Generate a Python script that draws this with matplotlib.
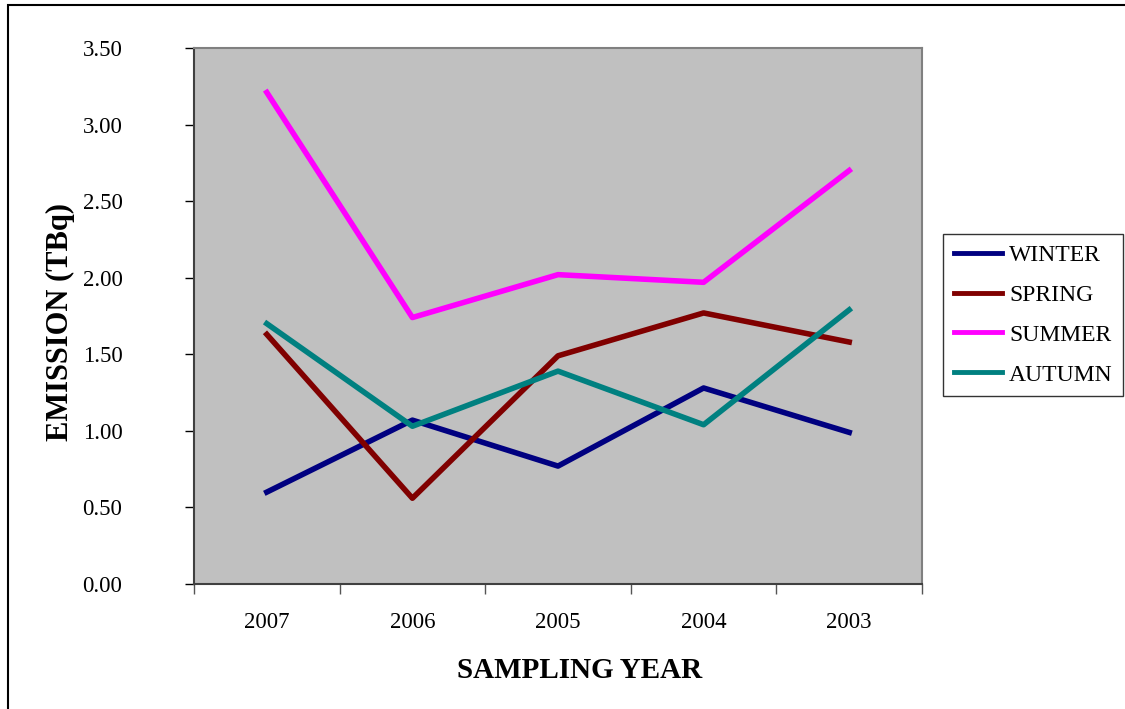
import matplotlib
matplotlib.use("Agg")
import matplotlib.pyplot as plt
from matplotlib.patches import Rectangle

# values
years = ["2007", "2006", "2005", "2004", "2003"]
winter = [0.60, 1.07, 0.77, 1.28, 0.99]
spring = [1.63, 0.56, 1.49, 1.77, 1.58]
summer = [3.21, 1.74, 2.02, 1.97, 2.70]
autumn = [1.70, 1.03, 1.39, 1.04, 1.79]

plt.rcParams['font.family'] = ['Liberation Serif', 'DejaVu Serif']

fig = plt.figure(figsize=(11.25, 7.09), dpi=100)
W, H = 1125, 709

# outer chart border (right/bottom clipped like the reference)
fig.patches.append(Rectangle((8 / W, -0.05), 1.2, 1 - 5 / H + 0.05, transform=fig.transFigure,
                             fill=False, edgecolor='black', linewidth=1.5))

ax = fig.add_axes([194 / W, 1 - 584 / H, (922 - 194) / W, (584 - 48) / H])
ax.set_facecolor('#C0C0C0')

x = range(len(years))
ax.plot(x, winter, color='#000080', lw=4, label='WINTER')
ax.plot(x, spring, color='#800000', lw=4, label='SPRING')
ax.plot(x, summer, color='#FF00FF', lw=4, label='SUMMER')
ax.plot(x, autumn, color='#008080', lw=4, label='AUTUMN')

ax.set_xlim(-0.5, len(years) - 0.5)
ax.set_ylim(0, 3.5)
ax.set_yticks([i * 0.5 for i in range(8)])
ax.set_yticklabels([f"{i * 0.5:.2f}" for i in range(8)], fontsize=16.5)
ax.tick_params(axis='y', length=6.5, width=1, pad=45, color='black')

ax.set_xticks(list(x))
ax.set_xticklabels(years, fontsize=16.5)
ax.set_xticks([i - 0.5 for i in range(len(years) + 1)], minor=True)
ax.tick_params(axis='x', which='major', length=0, pad=20)
ax.tick_params(axis='x', which='minor', length=7, width=1, color='#555555')

for side in ['top', 'right']:
    ax.spines[side].set_color('#808080')
    ax.spines[side].set_linewidth(1.5)
for side in ['left', 'bottom']:
    ax.spines[side].set_color('#404040')
    ax.spines[side].set_linewidth(1.5)

fig.text(60 / W, 1 - 322 / H, "EMISSION (TBq)", rotation=90, ha='center', va='center',
         fontsize=22, fontweight='bold')
fig.text(580 / W, 1 - 671 / H, "SAMPLING YEAR", ha='center', va='center',
         fontsize=21, fontweight='bold')

leg = fig.legend(loc='center left', bbox_to_anchor=(943 / W, 1 - 315 / H), fontsize=17,
                 frameon=True, fancybox=False, edgecolor='black', handlelength=2.05,
                 handletextpad=0.3, labelspacing=0.78, borderpad=0.45, borderaxespad=0)
leg.get_frame().set_linewidth(1.0)
for line in leg.get_lines():
    line.set_linewidth(3.5)

fig.savefig("out.png", dpi=100)
